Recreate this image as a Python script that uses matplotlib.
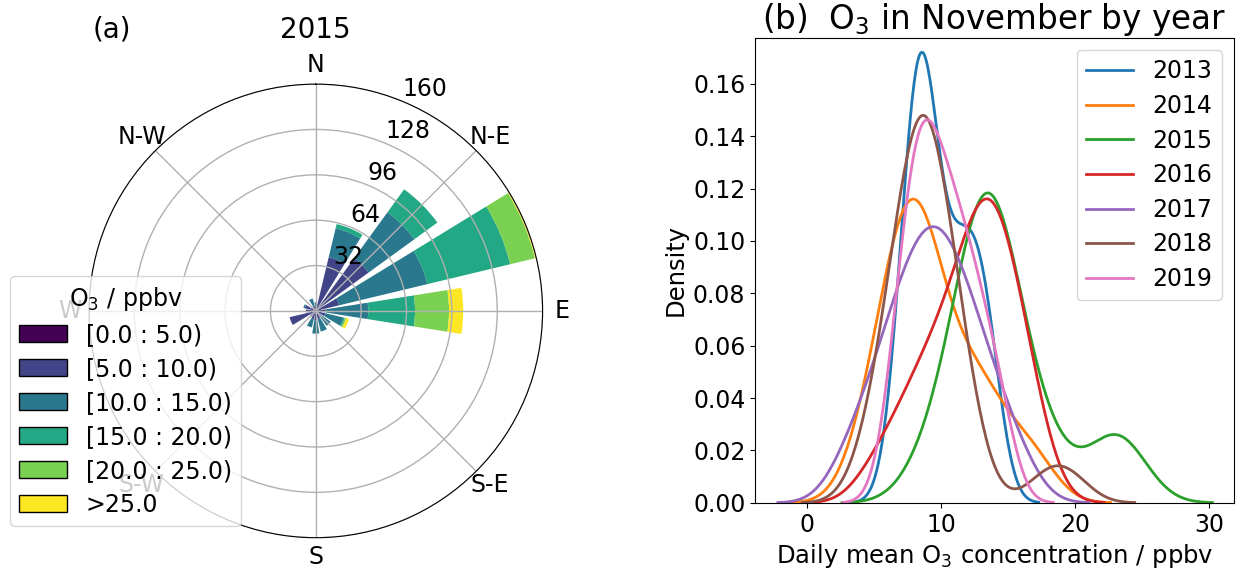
import numpy as np
import matplotlib.pyplot as plt
import seaborn as sns
from matplotlib.patches import Patch

plt.rcParams['font.size'] = 17

# ---- wind rose data, November 2015 (hours per sector and O3 class) ----
sectors = ["N", "NNE", "NE", "ENE", "E", "ESE", "SE", "SSE",
           "S", "SSW", "SW", "WSW", "W", "WNW", "NW", "NNW"]
o3_classes = ["[0.0 : 5.0)", "[5.0 : 10.0)", "[10.0 : 15.0)",
              "[15.0 : 20.0)", "[20.0 : 25.0)", ">25.0"]
n_0_5 = [1, 1, 1, 1, 1, 1, 1, 1, 1, 1, 1, 2, 1, 1, 1, 1]
n_5_10 = [2, 38, 45, 16, 6, 6, 4, 5, 6, 5, 4, 17, 6, 7, 2, 3]
n_10_15 = [3, 21, 40, 64, 30, 13, 8, 9, 9, 6, 0, 0, 0, 1, 0, 5]
n_15_20 = [0, 3, 20, 60, 33, 1, 0, 0, 0, 0, 0, 0, 0, 0, 0, 0]
n_20_25 = [0, 0, 0, 18, 24, 1, 0, 0, 0, 0, 0, 0, 0, 0, 0, 0]
n_25_up = [0, 0, 0, 1, 10, 2, 0, 0, 0, 0, 0, 0, 0, 0, 0, 0]
rose_counts = [n_0_5, n_5_10, n_10_15, n_15_20, n_20_25, n_25_up]
compass = ["N", "N-E", "E", "S-E", "S", "S-W", "W", "N-W"]

# ---- daily mean O3 in November (ppbv) ----
years = [2013, 2014, 2015, 2016, 2017, 2018, 2019]
o3_2013 = [6.6, 7.1, 7.4, 7.6, 7.8, 7.95, 8.1, 8.25, 8.4, 8.5, 8.6, 8.75, 8.9, 9.05, 9.2,
           9.4, 9.7, 10.1, 10.6, 10.9, 11.2, 11.5, 11.8, 12.1, 12.4, 12.7, 13.0, 13.3, 13.6, 14.0]
o3_2014 = [3.85, 4.85, 5.35, 5.75, 6.15, 6.45, 6.75, 6.95, 7.15, 7.45, 7.65, 7.85, 8.05, 8.25, 8.55,
           8.75, 8.95, 9.25, 9.55, 9.95, 10.35, 10.85, 12.0, 12.4, 12.7, 13.1, 14.0, 15.2, 16.3, 17.4]
o3_2015 = [8.6, 9.7, 10.6, 11.2, 11.6, 12.0, 12.3, 12.55, 12.75, 12.95, 13.1, 13.25, 13.4, 13.55, 13.7,
           13.85, 14.05, 14.25, 14.5, 14.8, 15.1, 15.5, 16.0, 16.8, 17.5, 19.0, 22.3, 22.8, 23.3, 24.2]
o3_2016 = [4.8, 6.3, 7.2, 7.9, 8.5, 9.1, 9.6, 10.1, 10.5, 10.9, 11.3, 11.7, 12.0, 12.3, 12.6,
           12.85, 13.1, 13.3, 13.5, 13.7, 13.95, 14.2, 14.5, 14.8, 15.1, 15.4, 15.8, 16.2, 16.7, 17.3]
o3_2017 = [2.8, 3.8, 4.7, 5.4, 5.9, 6.3, 6.7, 7.1, 7.5, 7.8, 8.1, 8.4, 8.7, 9.0, 9.3,
           9.5, 9.8, 10.1, 10.4, 10.7, 11.0, 11.4, 11.7, 12.1, 12.5, 12.9, 13.5, 14.1, 15.0, 16.0]
o3_2018 = [4.45, 5.35, 5.85, 6.25, 6.65, 6.95, 7.2, 7.45, 7.65, 7.85, 8.05, 8.2, 8.35, 8.5, 8.65,
           8.85, 9.0, 9.15, 9.35, 9.55, 9.75, 10.0, 10.3, 10.6, 10.9, 11.25, 11.65, 12.2, 17.8, 19.6]
o3_2019 = [6.2, 6.7, 7.1, 7.4, 7.6, 7.8, 8.0, 8.2, 8.4, 8.6, 8.8, 9.0, 9.2, 9.4, 9.65,
           9.9, 10.15, 10.4, 10.65, 10.9, 11.2, 11.5, 11.8, 12.1, 12.4, 12.8, 13.2, 13.7, 14.2, 14.8]
daily_o3 = [o3_2013, o3_2014, o3_2015, o3_2016, o3_2017, o3_2018, o3_2019]

fig = plt.figure(figsize=(12.36, 5.71), dpi=100)

# (a) wind rose
ax = fig.add_axes([0.072, 0.058, 0.367, 0.795], projection='polar')
ax.set_theta_zero_location('N')
ax.set_theta_direction(-1)
colors = plt.cm.viridis(np.linspace(0, 1, len(o3_classes)))
theta = np.deg2rad(np.arange(len(sectors)) * 360 / len(sectors))
width = np.deg2rad(360 / len(sectors)) * 0.8
bottom = np.zeros(len(sectors))
for vals, col in zip(rose_counts, colors):
    vals = np.array(vals, dtype=float)
    ax.bar(theta, vals, width=width, bottom=bottom, color=col, edgecolor='none', zorder=1)
    bottom += vals
rmax = bottom.max()
ax.set_ylim(0, rmax)
radii = np.linspace(0, rmax, 6)[1:]
ax.set_rgrids(radii, labels=['%d' % r for r in radii], angle=22.5)
ax.set_thetagrids(np.arange(0, 360, 45), labels=compass)
ax.grid(True, color='#b0b0b0', lw=1.0)
ax.set_axisbelow(False)
ax.spines['polar'].set_color('black')
ax.spines['polar'].set_zorder(3)
ax.set_title('2015', fontsize=20, pad=10.5)
fig.text(0.075, 0.9475, '(a)', fontsize=20, va='center')

handles = [Patch(facecolor=c, edgecolor='black') for c in colors]
fig.legend(handles, o3_classes, title='O$_3$ / ppbv', loc='lower left',
           bbox_to_anchor=(10 / 1236, 45 / 571), borderaxespad=0, fontsize=17,
           title_fontsize=17, labelspacing=0.42)

# (b) KDE of daily means by year
ax2 = fig.add_axes([0.611, 0.1194, 0.387, 0.814])
for yr, vals, c in zip(years, daily_o3, ['C%d' % i for i in range(7)]):
    sns.kdeplot(x=vals, ax=ax2, color=c, lw=2, label=str(yr))
ax2.set_xlim(-3.9, 31.8)
ax2.set_ylim(0, 0.1775)
ax2.set_yticks(np.arange(0, 0.161, 0.02))
ax2.set_xticks([0, 10, 20, 30])
ax2.set_ylabel('Density', fontsize=17.5)
ax2.set_xlabel('Daily mean O$_3$ concentration / ppbv', fontsize=17.5)
ax2.set_title('(b)  O$_3$ in November by year', fontsize=23.5)
ax2.legend(loc='upper right', fontsize=17, labelspacing=0.45)

fig.savefig('out.png', dpi=100)
